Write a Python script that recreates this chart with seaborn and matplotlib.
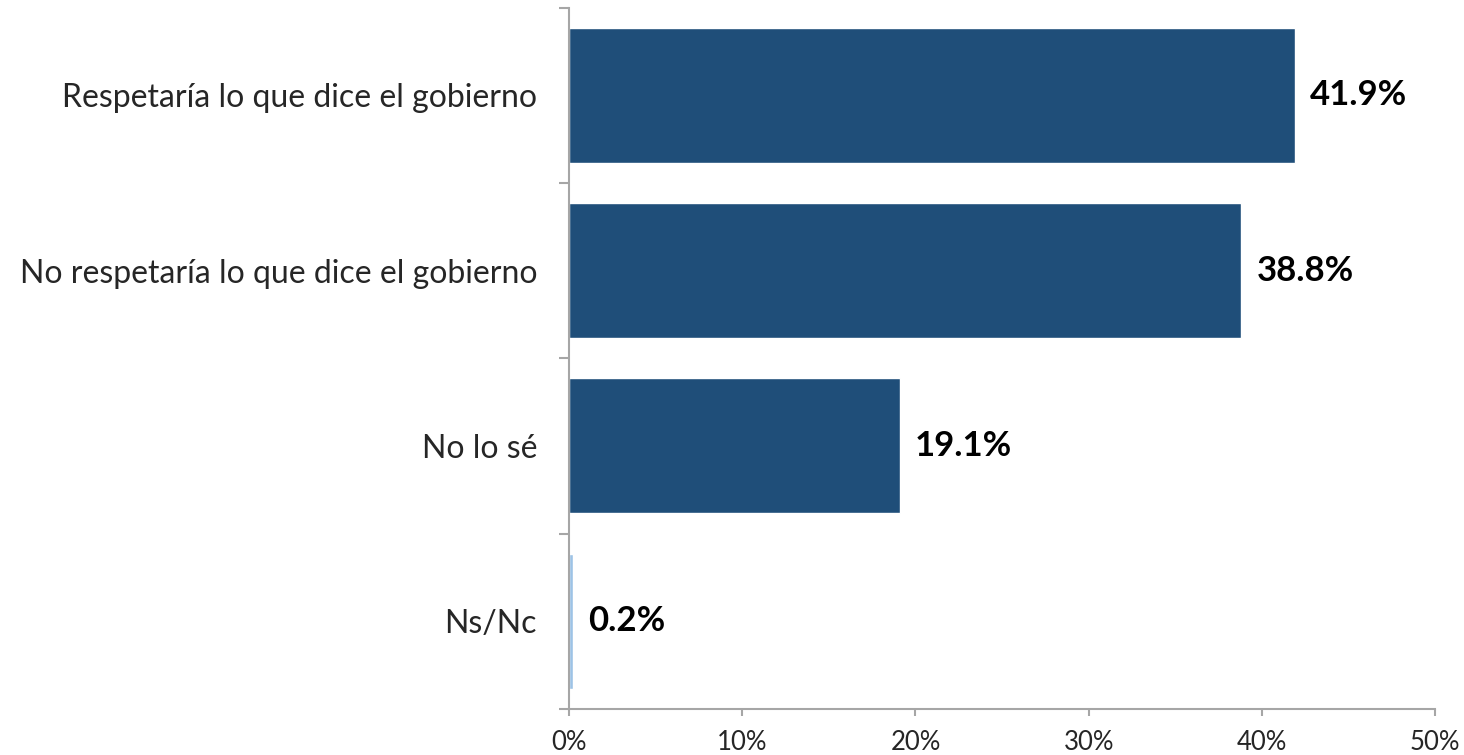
import matplotlib
matplotlib.use("Agg")
import matplotlib.pyplot as plt
import numpy as np
import pandas as pd
import seaborn as sns

categories = ["Respetaría lo que dice el gobierno",
              "No respetaría lo que dice el gobierno",
              "No lo sé",
              "Ns/Nc"]
values = [41.9, 38.8, 19.1, 0.2]
bar_colors = ["#1F4E79", "#1F4E79", "#1F4E79", "#9DC3E6"]
x_ticks = [0, 10, 20, 30, 40, 50]

sns.set_style("white")
plt.rcParams['font.family'] = ['Lato', 'DejaVu Sans']

df = pd.DataFrame({"cat": categories, "val": values})

fig = plt.figure(figsize=(14.64, 7.55), dpi=100)
ax = fig.add_axes([0.3887, 0.061, 0.5915, 0.929])

sns.barplot(data=df, x="val", y="cat", hue="cat", palette=bar_colors,
            orient="h", width=0.77, legend=False, saturation=1, ax=ax)

# value labels
for i, v in enumerate(values):
    ax.annotate(f"{v:.1f}%", xy=(v, i), xytext=(11, 0), textcoords="offset points",
                va="center", ha="left", fontsize=25, fontweight="bold", color="black")

ax.set_xlim(0, 50)
ax.set_ylim(len(categories) - 0.5, -0.5)
ax.set_xticks(x_ticks)
ax.set_xticklabels([f"{t}%" for t in x_ticks], fontsize=18.5)
ax.set_xlabel("")
ax.set_ylabel("")
ax.tick_params(axis="y", which="major", left=True, length=0, pad=23, labelsize=23)
ax.set_yticks(np.arange(-0.5, len(categories)), minor=True)
ax.tick_params(axis="y", which="minor", left=True, length=7, color="#A6A6A6", width=1.5)
ax.tick_params(axis="x", bottom=True, length=5, color="#A6A6A6", width=1.5, pad=10)

for side in ["top", "right"]:
    ax.spines[side].set_visible(False)
for side in ["left", "bottom"]:
    ax.spines[side].set_color("#A6A6A6")
    ax.spines[side].set_linewidth(1.5)

fig.savefig("out.png", dpi=100, facecolor="white")
